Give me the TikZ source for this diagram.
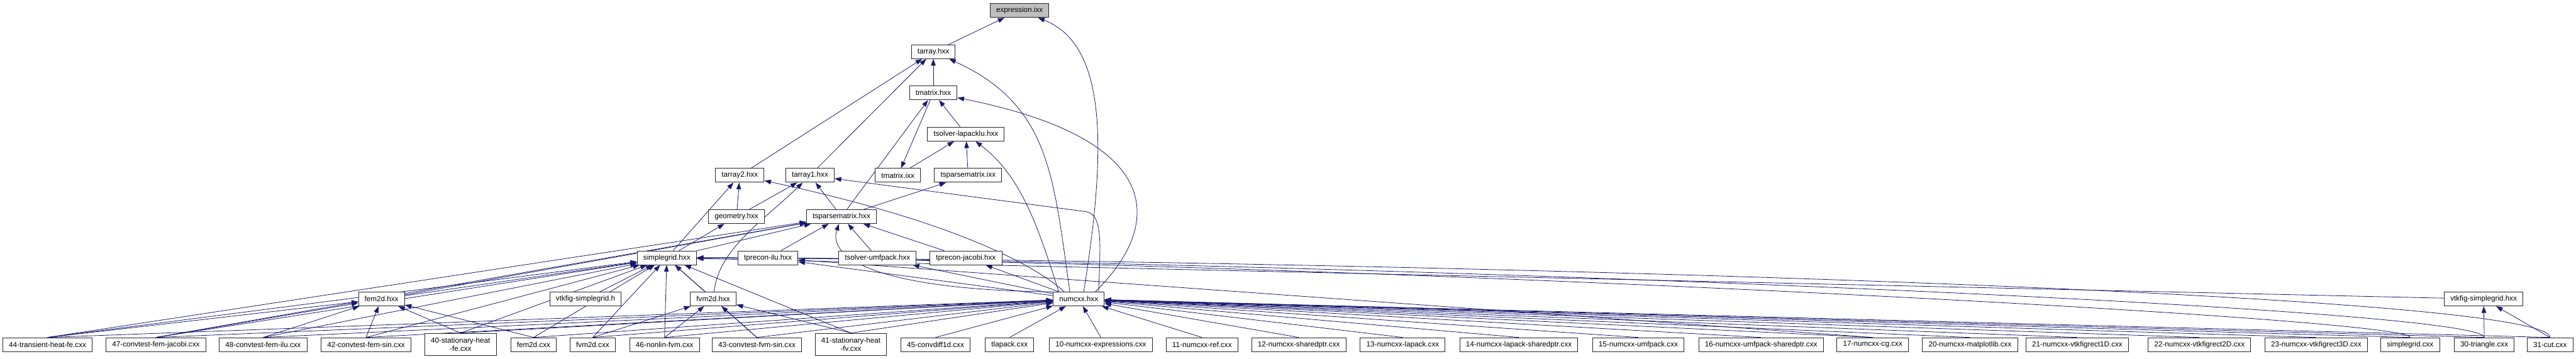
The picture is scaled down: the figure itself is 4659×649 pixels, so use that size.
\documentclass[tikz,border=0pt]{standalone}
\usepackage{fontspec}
\setmainfont{Liberation Sans}
\usetikzlibrary{arrows.meta}
\pgfdeclarelayer{bg}
\pgfdeclarelayer{edges}
\pgfsetlayers{bg,edges,main}
\definecolor{edgeblue}{HTML}{191970}
\definecolor{rootgray}{HTML}{BFBFBF}
\tikzset{
  file/.style={draw=black!85, line width=1.1pt, fill=white, minimum height=25pt,
    inner xsep=11pt, inner ysep=2pt, font=\fontsize{13.3}{15}\selectfont},
  twoline/.style={file, align=center, minimum height=40pt},
  root/.style={file, fill=rootgray},
  edge/.style={draw=edgeblue, line width=0.9pt, -{Triangle[length=12pt,width=8.5pt]}},
}
\begin{document}
\begin{tikzpicture}[x=1pt,y=-1pt]
    \begin{pgfonlayer}{bg}
      \fill[white] (0,0) rectangle (4659,649);
    \end{pgfonlayer}
    \useasboundingbox (0,0) rectangle (4659,649);

    % top of the graph
    \node[root] (expr) at (1844,19) {expression.ixx};
    \node[file] (tarray) at (1688,93.6) {tarray.hxx};
    \node[file] (tmatrixh) at (1688,168.1) {tmatrix.hxx};
    \node[file] (tlapacklu) at (1747,242.7) {tsolver-lapacklu.hxx};

    % headers
    \node[file] (tarraytwo) at (1338,317.3) {tarray2.hxx};
    \node[file] (tarrayone) at (1465,317.3) {tarray1.hxx};
    \node[file] (tmatrixi) at (1624,317.3) {tmatrix.ixx};
    \node[file] (tsparsei) at (1751,317.3) {tsparsematrix.ixx};
    \node[file] (geometry) at (1332,391.9) {geometry.hxx};
    \node[file] (tsparseh) at (1522,391.9) {tsparsematrix.hxx};
    \node[file] (simplegrid) at (1206,466.4) {simplegrid.hxx};
    \node[file] (tpreconilu) at (1389,466.4) {tprecon-ilu.hxx};
    \node[file] (tumfpack) at (1587,466.4) {tsolver-umfpack.hxx};
    \node[file] (tpreconjac) at (1747,466.4) {tprecon-jacobi.hxx};
    \node[file] (femh) at (690,541) {fem2d.hxx};
    \node[file] (vtkfigh) at (1059,541) {vtkfig-simplegrid.h};
    \node[file] (fvmh) at (1290,541) {fvm2d.hxx};
    \node[file] (numcxx) at (1951,541) {numcxx.hxx};
    \node[file] (vtkfigsg) at (4492,541) {vtkfig-simplegrid.hxx};

    % source files
    \foreach \n/\x/\t in {
        l44/86/44-transient-heat-fe.cxx,
        l47/282/47-convtest-fem-jacobi.cxx,
        l48/476/48-convtest-fem-ilu.cxx,
        l42/662/42-convtest-fem-sin.cxx,
        femc/965/fem2d.cxx,
        fvmc/1072/fvm2d.cxx,
        l46/1202/46-nonlin-fvm.cxx,
        l43/1369/43-convtest-fvm-sin.cxx,
        l45/1692/45-convdiff1d.cxx,
        tlapack/1826/tlapack.cxx,
        l10/1991/10-numcxx-expressions.cxx,
        l11/2174/11-numcxx-ref.cxx,
        l12/2349/12-numcxx-sharedptr.cxx,
        l13/2537/13-numcxx-lapack.cxx,
        l14/2747/14-numcxx-lapack-sharedptr.cxx,
        l15/2963/15-numcxx-umfpack.cxx,
        l16/3185/16-numcxx-umfpack-sharedptr.cxx,
        l17/3387/17-numcxx-cg.cxx,
        l20/3563/20-numcxx-matplotlib.cxx,
        l21/3757/21-numcxx-vtkfigrect1D.cxx,
        l22/3978/22-numcxx-vtkfigrect2D.cxx,
        l23/4189/23-numcxx-vtkfigrect3D.cxx,
        sgc/4359/simplegrid.cxx,
        l30/4493/30-triangle.cxx,
        l31/4612/31-cut.cxx}{
      \node[file] (\n) at (\x,623.5) {\t};
    }
    \node[twoline] (l40) at (833,623) {40-stationary-heat\\-fe.cxx};
    \node[twoline] (l41) at (1539,623) {41-stationary-heat\\-fv.cxx};

    \begin{pgfonlayer}{edges}
    % upper part
    \draw[edge] (tarray) -- (expr);
    \draw[edge] ([xshift=9pt]numcxx.north) .. controls (2003,260) and (2000,80) .. (expr);
    \foreach \s in {tarraytwo,tarrayone,tmatrixh}
      \draw[edge] (\s) -- (tarray);
    \draw[edge] ([xshift=-16pt]numcxx.north) .. controls (1905,320) and (1900,190) .. (tarray);
    \foreach \s in {tsparseh,tlapacklu}
      \draw[edge] (\s) -- (tmatrixh);
    \draw[edge] ([xshift=30pt]numcxx.north) .. controls (2110,400) and (2100,250) .. (tmatrixh);
    \draw[edge] (tmatrixh) -- (tmatrixi);
    \foreach \s in {tmatrixi,tsparsei}
      \draw[edge] (\s) -- (tlapacklu);
    \draw[edge] ([xshift=-36pt]numcxx.north) .. controls (1880,420) and (1850,320) .. (tlapacklu);
    \foreach \s in {geometry,simplegrid}
      \draw[edge] (\s) -- (tarraytwo);
    \draw[edge] ([xshift=-26pt]numcxx.north) .. controls (1860,470) and (1700,395) .. (tarraytwo);
    \foreach \s in {geometry,tsparseh}
      \draw[edge] (\s) -- (tarrayone);
    \draw[edge] (fvmh) .. controls (1300,450) and (1380,400) .. (tarrayone);
    \draw[edge] ([xshift=36pt]numcxx.north) .. controls (1990,440) and (1995,390) .. (1965,383) -- (tarrayone);
    \draw[edge] (tsparseh) -- (tsparsei);
    \draw[edge] (simplegrid) -- (geometry);

    % sparse matrix and solvers
    \foreach \s in {simplegrid,tpreconilu,tumfpack,tpreconjac,femh}
      \draw[edge] (\s) -- (tsparseh);
    \foreach \s in {l44,l47}
      \draw[edge] (\s.north) -- (tsparseh);
    \draw[edge] (numcxx.north west) .. controls (1600,525) and (1495,470) .. (tsparseh);
    \foreach \s in {tpreconilu,tumfpack,tpreconjac}
      \draw[edge] (numcxx) -- (\s);
    \draw[edge] (l17.north) -- (tpreconilu);

    % grid
    \foreach \s in {femh,fvmh,vtkfigh,vtkfigsg}
      \draw[edge] (\s) -- (simplegrid);
    \foreach \s in {l44,l47,l48,l42,l40,femc,fvmc,l46,l43,l41}
      \draw[edge] (\s.north) -- (simplegrid);
    \foreach \s/\h in {sgc/40,l30/60,l31/90}
      \draw[edge] (\s.north) .. controls +(0,-\h) and +(900,0) .. (simplegrid.east);

    % fem, fvm, vtkfig
    \foreach \s in {l44,l47,l48,l42,l40,femc}
      \draw[edge] (\s.north) -- (femh);
    \foreach \s in {fvmc,l46,l43,l41}
      \draw[edge] (\s.north) -- (fvmh);
    \foreach \s in {l30,l31}
      \draw[edge] (\s.north) -- (vtkfigsg);

    % numcxx
    \foreach \s in {l44,l47,l48,l42,l40,femc,fvmc,l46,l43,l41,l45,tlapack,
        l10,l11,l12,l13,l14,l15,l16,l17,l20,l21,l22,l23,sgc,l30,l31}
      \draw[edge] (\s.north) -- (numcxx);
    \end{pgfonlayer}
\end{tikzpicture}
\end{document}
